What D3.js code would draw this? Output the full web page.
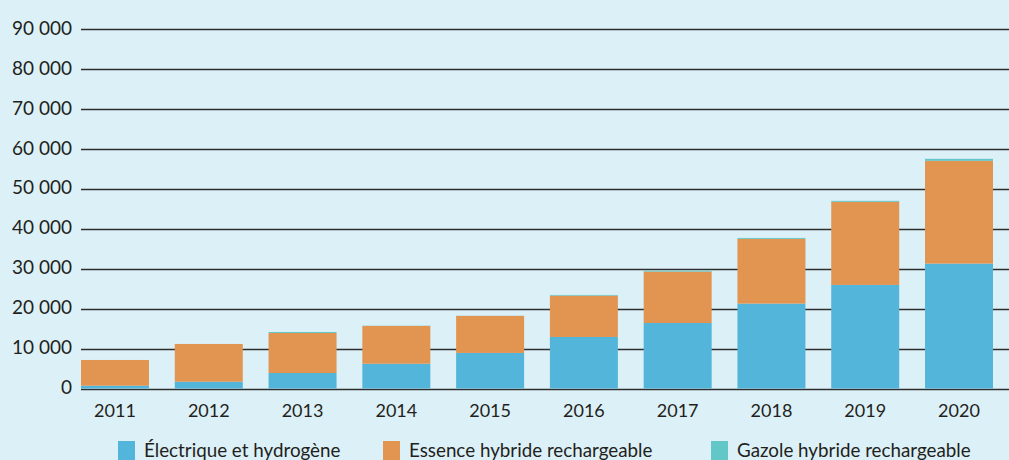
<!DOCTYPE html>
<html>
<head>
<meta charset="utf-8">
<script src="https://cdn.jsdelivr.net/npm/d3@7"></script>
<style>
  html, body { margin: 0; padding: 0; background: #dcf0f7; overflow: hidden; }
  svg { display: block; }
  text { font-family: Lato, "Open Sans", sans-serif; fill: #231f20; }
</style>
</head>
<body>
<svg id="chart" width="1009" height="460"></svg>
<script>
// Annual registrations of rechargeable vehicles, by energy type
const years = ["2011", "2012", "2013", "2014", "2015", "2016", "2017", "2018", "2019", "2020"];
const electrique = [700, 1700, 3880, 6200, 8900, 12900, 16400, 21250, 25930, 31270];
const essenceHybride = [6440, 9450, 10020, 9460, 9270, 10350, 12870, 16210, 20800, 25730];
const gazoleHybride = [0, 0, 250, 60, 40, 180, 230, 240, 250, 500];
const seriesNames = ["Électrique et hydrogène", "Essence hybride rechargeable", "Gazole hybride rechargeable"];
const seriesKeys = ["elec", "ess", "gaz"];
const colors = ["#54b5da", "#e29451", "#63c7c7"];
const yTicks = [0, 10000, 20000, 30000, 40000, 50000, 60000, 70000, 80000, 90000];

const rows = years.map((yr, i) => ({ year: yr, elec: electrique[i], ess: essenceHybride[i], gaz: gazoleHybride[i] }));

const svg = d3.select("#chart");
const plotLeft = 81, plotRight = 1009, plotTop = 29, plotBottom = 388.5;

const x = d3.scaleBand().domain(years).range([plotLeft, 993]).paddingInner(0.275).paddingOuter(0);
const y = d3.scaleLinear().domain([0, 90000]).range([plotBottom, plotTop]);

// French number format with a space as thousands separator
const fmt = v => d3.format(",")(v).replace(/,/g, " ");

// gridlines
svg.append("g").selectAll("line").data(yTicks).join("line")
  .attr("x1", plotLeft).attr("x2", plotRight)
  .attr("y1", d => Math.round(y(d)) + 0.5).attr("y2", d => Math.round(y(d)) + 0.5)
  .attr("stroke", "#2e2e2e").attr("stroke-width", 1.3);

// y tick labels
svg.append("g").selectAll("text").data(yTicks).join("text")
  .attr("x", 72).attr("y", d => y(d))
  .attr("dy", "0.3em")
  .attr("text-anchor", "end")
  .attr("font-size", 19)
  .text(d => fmt(d));

// stacked bars
const stack = d3.stack().keys(seriesKeys)(rows);
svg.append("g").selectAll("g").data(stack).join("g")
  .attr("fill", (d, i) => colors[i])
  .selectAll("rect").data(d => d).join("rect")
  .attr("x", d => x(d.data.year))
  .attr("width", x.bandwidth())
  .attr("y", d => y(d[1]))
  .attr("height", d => Math.max(0, y(d[0]) - y(d[1])));

// x labels
svg.append("g").selectAll("text").data(years).join("text")
  .attr("x", d => x(d) + x.bandwidth() / 2)
  .attr("y", 411)
  .attr("dy", "0.35em")
  .attr("text-anchor", "middle")
  .attr("font-size", 18)
  .text(d => d);

// legend
const legendX = [118, 383, 711];
const lg = svg.append("g").selectAll("g").data(seriesNames).join("g")
  .attr("transform", (d, i) => `translate(${legendX[i]},441)`);
lg.append("rect").attr("width", 17).attr("height", 19).attr("fill", (d, i) => colors[i]);
lg.append("text").attr("x", 26).attr("y", 16).attr("font-size", 18.8).text(d => d);
</script>
</body>
</html>
